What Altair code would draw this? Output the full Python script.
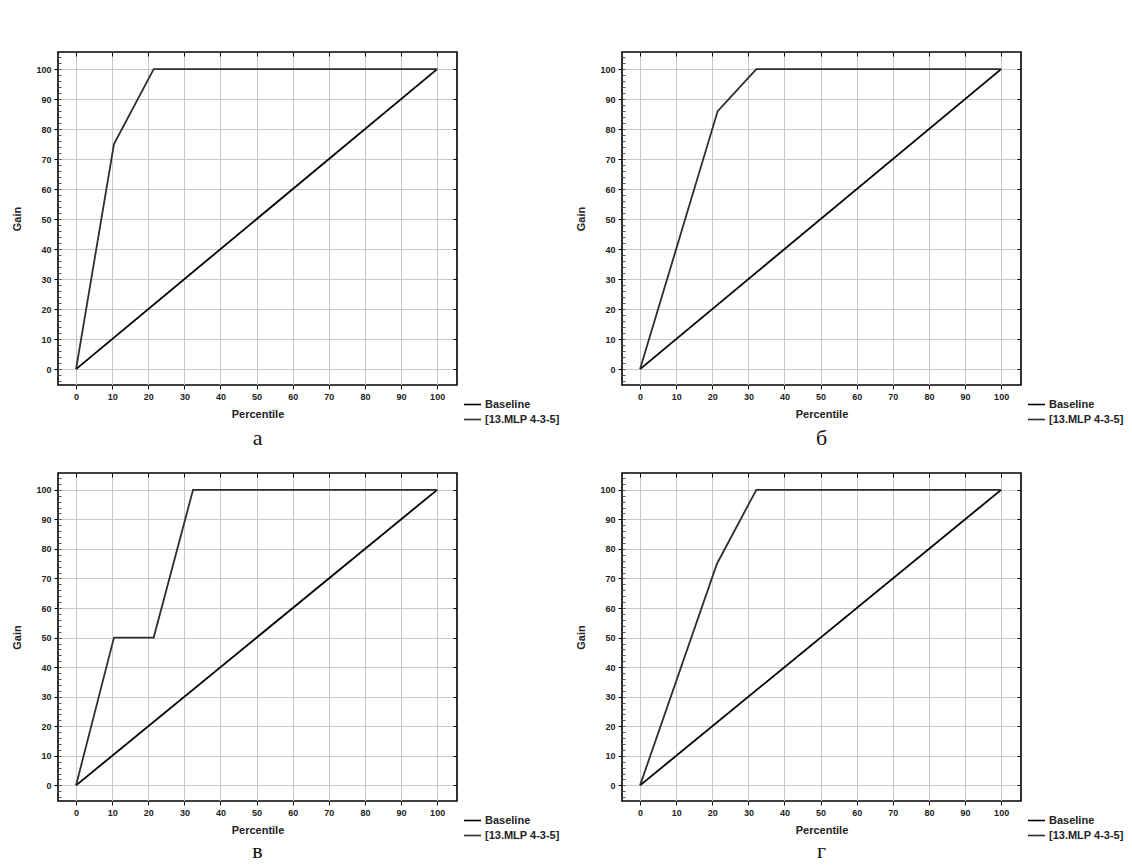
import altair as alt
import pandas as pd

# ---- data ----
series_names = ["Baseline", "[13.MLP 4-3-5]"]
panel_letters = ["а", "б", "в", "г"]

baseline_x = [0, 100]
baseline_y = [0, 100]

model_a_x = [0, 10.5, 21.5, 100]
model_a_y = [0, 75, 100, 100]

model_b_x = [0, 21.5, 32.2, 100]
model_b_y = [0, 86, 100, 100]

model_c_x = [0, 10.5, 21.5, 32.4, 100]
model_c_y = [0, 50, 50, 100, 100]

model_d_x = [0, 21.3, 32.2, 100]
model_d_y = [0, 75, 100, 100]

tick_values = list(range(0, 101, 10))
minor_tick_values = list(range(-4, 105, 2))

FONT = "Liberation Sans"
XDOM = [-5, 105.5]
YDOM = [-5.3, 105.7]


def panel(mx, my, letter, letter_offset, height):
    rows = []
    for i, (x, y) in enumerate(zip(baseline_x, baseline_y)):
        rows.append({"series": series_names[0], "order": i, "x": x, "y": y})
    for i, (x, y) in enumerate(zip(mx, my)):
        rows.append({"series": series_names[1], "order": i, "x": x, "y": y})
    df = pd.DataFrame(rows)
    xs = alt.Scale(domain=XDOM, nice=False, zero=False)
    ys = alt.Scale(domain=YDOM, nice=False, zero=False)

    lines = (
        alt.Chart(df)
        .mark_line(strokeWidth=1.8)
        .encode(
            x=alt.X("x:Q", scale=xs,
                    axis=alt.Axis(values=tick_values, title="Percentile",
                                  titlePadding=7)),
            y=alt.Y("y:Q", scale=ys,
                    axis=alt.Axis(values=tick_values, title="Gain",
                                  titlePadding=13)),
            color=alt.Color("series:N",
                            scale=alt.Scale(domain=series_names,
                                            range=["#000000", "#2e2e2e"]),
                            legend=alt.Legend(orient="none", legendX=405,
                                              legendY=height + 10, title=None,
                                              symbolType="stroke",
                                              symbolSize=289,
                                              symbolStrokeWidth=1.6,
                                              labelFont=FONT, labelFontSize=11,
                                              labelFontWeight="bold",
                                              labelColor="#222222",
                                              rowPadding=-4, labelOffset=3)),
            order="order:Q",
        )
    )

    # mirrored inward ticks on the top and right edges of the frame
    mirror = (
        alt.Chart(df)
        .mark_point(opacity=0)
        .encode(
            x=alt.X("x:Q", scale=xs,
                    axis=alt.Axis(orient="top", values=tick_values, labels=False,
                                  grid=False, title=None, offset=-4, tickSize=4)),
            y=alt.Y("y:Q", scale=ys,
                    axis=alt.Axis(orient="right", values=tick_values, labels=False,
                                  grid=False, title=None, offset=-4, tickSize=4)),
        )
    )

    # small ticks along the left edge
    minor = (
        alt.Chart(df)
        .mark_point(opacity=0)
        .encode(
            x=alt.X("x:Q", scale=xs, axis=None),
            y=alt.Y("y:Q", scale=ys,
                    axis=alt.Axis(orient="left", values=minor_tick_values,
                                  labels=False, grid=False, title=None,
                                  offset=-3, tickSize=3, tickColor="#555555")),
        )
    )

    return (
        alt.layer(lines, mirror, minor)
        .resolve_axis(x="independent", y="independent")
        .properties(width=399, height=height,
                    title=alt.Title(letter, orient="bottom", anchor="middle",
                                    font="Liberation Serif", fontSize=22,
                                    fontWeight="normal", offset=letter_offset,
                                    color="#111"))
    )


pa = panel(model_a_x, model_a_y, panel_letters[0], 3, 333)
pb = panel(model_b_x, model_b_y, panel_letters[1], 3, 333)
pc = panel(model_c_x, model_c_y, panel_letters[2], 0, 328)
pd_ = panel(model_d_x, model_d_y, panel_letters[3], 0, 328)

top = alt.hconcat(pa, pb, spacing=14).resolve_scale(color="independent")
bottom = alt.hconcat(pc, pd_, spacing=14).resolve_scale(color="independent")

chart = (
    alt.vconcat(top, bottom, spacing=21)
    .resolve_scale(color="independent")
    .properties(padding={"left": 11, "top": 50, "right": 0, "bottom": 0},
                background="#ffffff")
    .configure_view(stroke="#000000", strokeWidth=1.6)
    .configure_axis(
        domain=False,
        grid=True,
        gridColor="#c8c8c8",
        gridWidth=1,
        ticks=True,
        tickColor="#000000",
        tickSize=4,
        labelFont=FONT,
        labelFontSize=9,
        labelFontWeight="bold",
        labelColor="#222222",
        titleFont=FONT,
        titleFontSize=11,
        titleFontWeight="bold",
        titleColor="#222222",
        labelPadding=3,
    )
)

chart.save("out.html", embed_options={"renderer": "svg", "actions": False})
